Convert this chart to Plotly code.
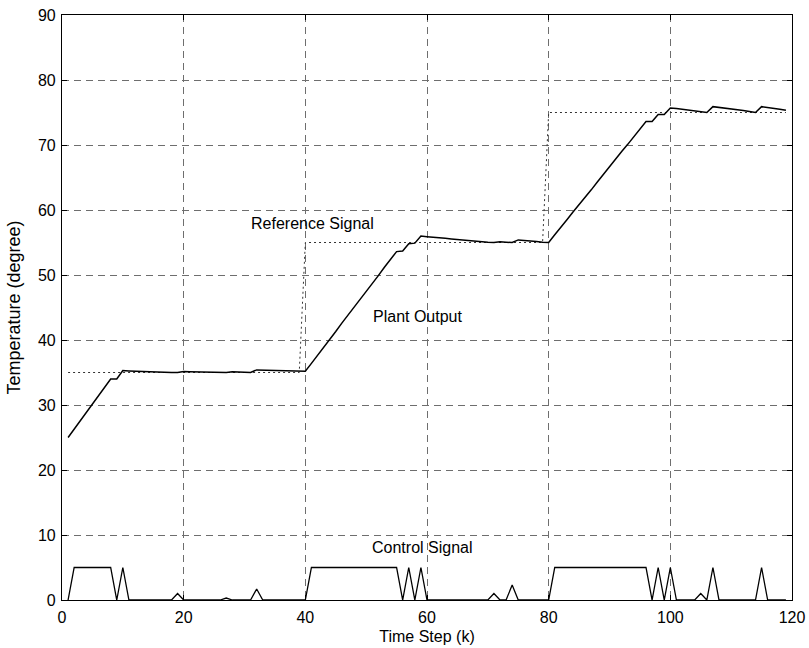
import plotly.graph_objects as go

# Time steps
steps = list(range(1, 120))

# Reference temperature set-point
reference = [35.0] * 39 + [55.0] * 40 + [75.0] * 40

# Measured plant output temperature
plant_output = [
    25.0, 26.3, 27.6, 28.9, 30.2, 31.4, 32.7, 34.0, 34.0, 35.3,
    35.25, 35.2, 35.15, 35.1, 35.05, 35.0, 35.0, 35.0, 35.0, 35.15,
    35.12, 35.1, 35.08, 35.05, 35.03, 35.0, 35.0, 35.1, 35.05, 35.02,
    35.0, 35.4, 35.38, 35.35, 35.33, 35.3, 35.28, 35.25, 35.22, 35.2,
    36.4, 37.6, 38.9, 40.1, 41.3, 42.6, 43.8, 45.0, 46.2, 47.5,
    48.7, 49.9, 51.2, 52.4, 53.6, 53.7, 54.8, 54.9, 56.0, 55.9,
    55.85, 55.75, 55.65, 55.55, 55.45, 55.35, 55.25, 55.15, 55.1, 55.05,
    55.0, 55.1, 55.05, 55.0, 55.4, 55.35, 55.25, 55.15, 55.05, 55.0,
    56.2, 57.3, 58.5, 59.7, 60.8, 62.0, 63.1, 64.3, 65.5, 66.6,
    67.8, 69.0, 70.1, 71.3, 72.4, 73.6, 73.6, 74.7, 74.7, 75.7,
    75.6, 75.5, 75.35, 75.25, 75.1, 75.0, 75.9, 75.8, 75.7, 75.55,
    75.4, 75.3, 75.15, 75.0, 75.9, 75.8, 75.65, 75.5, 75.35,
]

# Controller output
control = [
    0.0, 5.0, 5.0, 5.0, 5.0, 5.0, 5.0, 5.0, 0.0, 5.0,
    0.0, 0.0, 0.0, 0.0, 0.0, 0.0, 0.0, 0.0, 1.0, 0.0,
    0.0, 0.0, 0.0, 0.0, 0.0, 0.0, 0.3, 0.0, 0.0, 0.0,
    0.0, 1.7, 0.0, 0.0, 0.0, 0.0, 0.0, 0.0, 0.0, 0.0,
    5.0, 5.0, 5.0, 5.0, 5.0, 5.0, 5.0, 5.0, 5.0, 5.0,
    5.0, 5.0, 5.0, 5.0, 5.0, 0.0, 5.0, 0.0, 5.0, 0.0,
    0.0, 0.0, 0.0, 0.0, 0.0, 0.0, 0.0, 0.0, 0.0, 0.0,
    1.0, 0.0, 0.0, 2.3, 0.0, 0.0, 0.0, 0.0, 0.0, 0.0,
    5.0, 5.0, 5.0, 5.0, 5.0, 5.0, 5.0, 5.0, 5.0, 5.0,
    5.0, 5.0, 5.0, 5.0, 5.0, 5.0, 0.0, 5.0, 0.0, 5.0,
    0.0, 0.0, 0.0, 0.0, 1.0, 0.0, 5.0, 0.0, 0.0, 0.0,
    0.0, 0.0, 0.0, 0.0, 5.0, 0.0, 0.0, 0.0, 0.0,
]

x_ticks = [0, 20, 40, 60, 80, 100, 120]
y_ticks = [0, 10, 20, 30, 40, 50, 60, 70, 80, 90]

FONT = "Liberation Sans, Arial, sans-serif"

fig = go.Figure()
fig.add_trace(go.Scatter(
    x=steps, y=reference, mode="lines",
    line=dict(color="#333333", width=1, dash="2px,3px"),
    name="Reference Signal",
))
fig.add_trace(go.Scatter(
    x=steps, y=plant_output, mode="lines",
    line=dict(color="black", width=1.5),
    name="Plant Output",
))
fig.add_trace(go.Scatter(
    x=steps, y=control, mode="lines",
    line=dict(color="black", width=1.3),
    name="Control Signal",
))

labels = [
    ("Reference Signal", 41.2, 57.9),
    ("Plant Output", 58.5, 43.6),
    ("Control Signal", 59.3, 8.1),
]
for text, xv, yv in labels:
    fig.add_annotation(
        x=xv, y=yv, text=text, showarrow=False,
        font=dict(family=FONT, size=16, color="black"),
        xanchor="center", yanchor="middle",
    )

axis_common = dict(
    showline=True, linecolor="black", linewidth=1.2, mirror="ticks",
    ticks="inside", ticklen=5, tickcolor="black",
    showgrid=True, gridcolor="#6e6e6e", gridwidth=1, griddash="7px,5px",
    zeroline=False, automargin=False,
    tickfont=dict(family=FONT, size=16, color="black"),
)

fig.update_xaxes(
    range=[0, 120], tickvals=x_ticks, ticklabelstandoff=3,
    title=dict(text="Time Step (k)", font=dict(family=FONT, size=16, color="black"), standoff=5),
    **axis_common,
)
fig.update_yaxes(
    range=[0, 90], tickvals=y_ticks, ticklabelstandoff=2,
    title=dict(text="Temperature (degree)", font=dict(family=FONT, size=18, color="black"), standoff=12),
    **axis_common,
)

fig.update_layout(
    width=809, height=648,
    margin=dict(l=62, r=17, t=15, b=48),
    plot_bgcolor="white", paper_bgcolor="white",
    showlegend=False,
)

fig.write_html("out.html")
